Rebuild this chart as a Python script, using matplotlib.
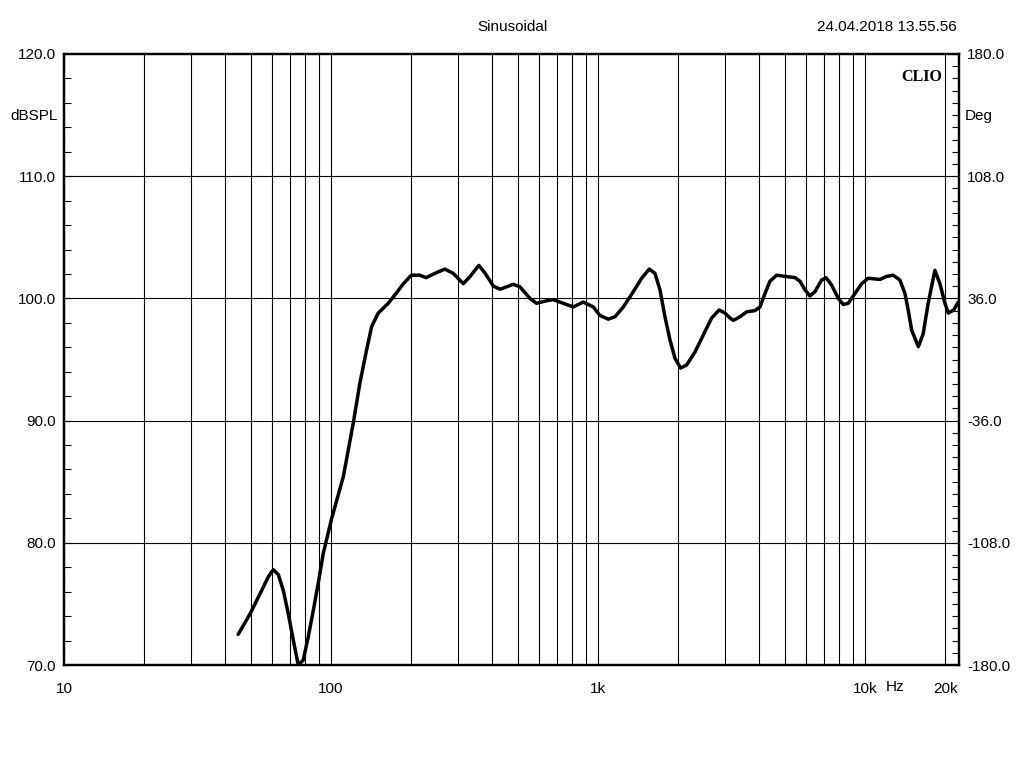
import numpy as np
import matplotlib.pyplot as plt
from matplotlib.ticker import FixedLocator, MultipleLocator, NullFormatter

# frequency response (Hz, dB SPL)
freq = [44.9, 49.8, 55.0, 58.2, 60.8, 63.5, 66.3, 69.2, 72.3, 75.4, 78.7, 82.2,
        85.9, 89.6, 93.5, 100.6, 111.2, 121.2, 128.4, 136.0, 142.0, 150.3, 163.9,
        173.7, 186.7, 200, 215, 227, 248, 267, 287, 313, 332, 358, 378, 406, 430,
        482, 510, 556, 589, 640, 680, 741, 808, 881, 961, 1017, 1093, 1158, 1245,
        1356, 1458, 1556, 1635, 1707, 1782, 1861, 1943, 2040, 2148, 2307, 2480,
        2666, 2846, 2990, 3122, 3213, 3404, 3605, 3873, 4044, 4222, 4405, 4670,
        5017, 5471, 5710, 5962, 6223, 6497, 6881, 7145, 7500, 7945, 8293, 8658,
        9174, 9719, 10290, 11380, 12060, 12760, 13520, 14120, 14520, 14960, 15850,
        16520, 17250, 18280, 19090, 19940, 20510, 21500, 22370]
spl = [72.5, 74.2, 76.1, 77.2, 77.8, 77.4, 76.1, 74.2, 72.0, 70.0, 70.4, 72.3,
       74.5, 76.7, 79.1, 82.0, 85.4, 89.8, 93.1, 95.8, 97.7, 98.8, 99.6,
       100.3, 101.2, 101.9, 101.9, 101.7, 102.1, 102.4, 102.05, 101.2, 101.8, 102.7,
       102.05, 101.0, 100.75, 101.15, 100.95, 100.0, 99.6, 99.8, 99.9, 99.6, 99.3,
       99.7, 99.3, 98.6, 98.3, 98.5, 99.3, 100.55, 101.65, 102.4, 102.05, 100.7,
       98.5, 96.6, 95.1, 94.3, 94.55, 95.6, 97.0, 98.4, 99.05, 98.8, 98.4, 98.2,
       98.5, 98.9, 99.0, 99.3, 100.4, 101.4, 101.9, 101.8, 101.7, 101.4, 100.7,
       100.2, 100.55, 101.5, 101.7, 101.1, 100.0, 99.5, 99.6, 100.4, 101.2, 101.65,
       101.55, 101.8, 101.9, 101.5, 100.4, 99.05, 97.4, 96.05, 97.1, 99.6, 102.3,
       101.2, 99.6, 98.8, 99.05, 99.7]

grid_freqs = [20, 30, 40, 50, 60, 70, 80, 90, 100, 200, 300, 400, 500, 600, 700,
              800, 900, 1000, 2000, 3000, 4000, 5000, 6000, 7000, 8000, 9000,
              10000, 20000]
x_ticks = [10, 100, 1000, 10000, 20000]
x_labels = ["10", "100", "1k", "10k", "20k"]
db_ticks = [70, 80, 90, 100, 110, 120]
deg_ticks = [-180, -108, -36, 36, 108, 180]

plt.rcParams['font.family'] = ['Liberation Sans', 'DejaVu Sans']
plt.rcParams['font.size'] = 11

fig = plt.figure(figsize=(10.24, 7.68), dpi=100)
ax = fig.add_axes([0.0625, 0.1341, 0.8740, 0.7956])

ax.set_xscale('log')
ax.set_xlim(10, 22500)
ax.set_ylim(70, 120)

for f in grid_freqs:
    ax.axvline(f, color='black', linewidth=0.8, zorder=1)
for d in [80, 90, 100, 110]:
    ax.axhline(d, color='black', linewidth=0.8, zorder=1)

ax.plot(freq, spl, color='black', linewidth=2.5, solid_capstyle='round',
        solid_joinstyle='round', zorder=3)

ax.xaxis.set_major_locator(FixedLocator(x_ticks))
ax.set_xticklabels(x_labels)
ax.xaxis.set_minor_formatter(NullFormatter())
ax.xaxis.set_minor_locator(FixedLocator([]))
ax.tick_params(axis='x', length=0, pad=12)

ax.set_yticks(db_ticks)
ax.set_yticklabels([f"{v:.1f}" for v in db_ticks])
ax.yaxis.set_minor_locator(MultipleLocator(2))
ax.tick_params(axis='y', which='both', direction='in', length=5, width=0.8, pad=6)

ax2 = ax.twinx()
ax2.set_ylim(-180, 180)
ax2.set_yticks(deg_ticks)
ax2.set_yticklabels([f"{v:.1f}" for v in deg_ticks])
ax2.yaxis.set_minor_locator(MultipleLocator(7.2))
ax2.tick_params(axis='y', which='both', direction='in', length=5, width=0.8, pad=6)

for a in (ax, ax2):
    for s in a.spines.values():
        s.set_linewidth(1.6)

fig.text(64 / 1024 - 0.006, 1 - 116 / 768, "dBSPL", ha='right', va='center')
fig.text(965 / 1024, 1 - 116 / 768, "Deg", ha='left', va='center')
fig.text(895 / 1024, 1 - 687 / 768, "Hz", ha='center', va='center')
fig.text(512 / 1024, 1 - 27 / 768, "Sinusoidal", ha='center', va='center')
fig.text(957 / 1024, 1 - 27 / 768, "24.04.2018 13.55.56", ha='right', va='center')
ax.text(0.981, 0.976, "CLIO", transform=ax.transAxes, ha='right', va='top',
        family='Liberation Serif', fontweight='bold', fontsize=11.5)

fig.savefig("out.png", dpi=100)
